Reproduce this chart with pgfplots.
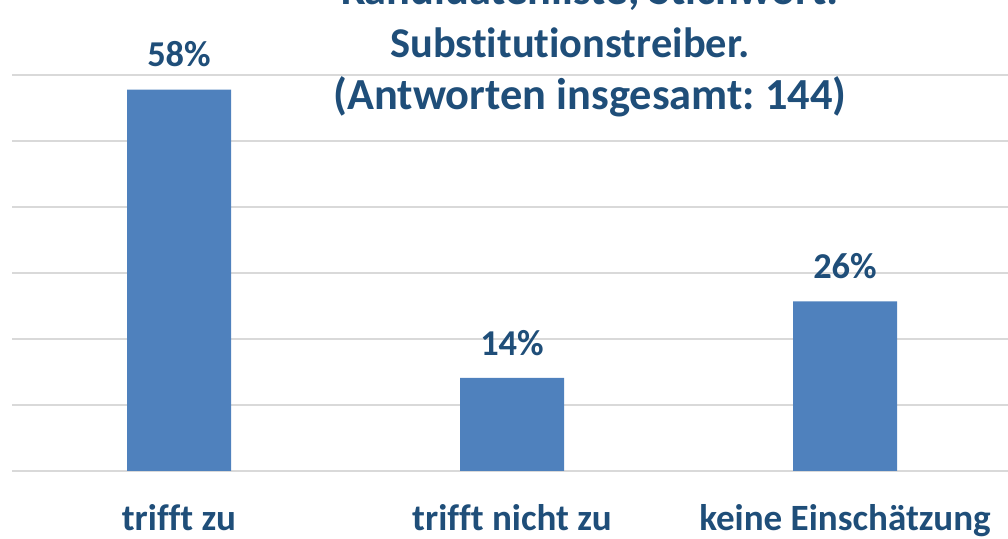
\documentclass[border=0pt]{standalone}
\usepackage{pgfplots}
\pgfplotsset{compat=1.18}
\usepackage{pgfplotstable}
\usepackage{fontspec}
\setmainfont{Carlito}[Ligatures=NoCommon]
\frenchspacing
\definecolor{barblue}{HTML}{4F81BD}
\definecolor{txtblue}{HTML}{1F4E79}
\definecolor{gridgray}{HTML}{D9D9D9}
\pgfplotstableread{
x y lab
0 57.8 58\%
1 14.1 14\%
2 25.7 26\%
}\datatable
\begin{document}
\begin{tikzpicture}
\path[use as bounding box, clip] (-9.375pt,-51pt) rectangle (746.625pt,353.25pt);
\begin{axis}[
  at={(0pt,0pt)}, anchor=south west,
  scale only axis,
  width=749.25pt, height=297pt,
  xmin=-0.5, xmax=2.5, ymin=0, ymax=60,
  axis line style={draw=none},
  ytick={0,10,...,60}, yticklabels={},
  ymajorgrids, grid style={gridgray, line width=1.1pt},
  major tick length=0pt,
  xtick={0,1,2},
  xticklabels={trifft zu, trifft nicht zu, keine Einschätzung},
  xticklabel style={anchor=base, yshift=-45pt, font=\fontsize{27.8}{32}\selectfont\bfseries, text=txtblue},
  clip=false,
]
\addplot[ybar, bar width=78pt, fill=barblue, draw=none,
  point meta=explicit symbolic,
  nodes near coords,
  nodes near coords style={anchor=base, yshift=17pt, font=\fontsize{27.3}{32}\selectfont\bfseries, text=txtblue}]
  table[x=x, y=y, meta=lab] {\datatable};
\end{axis}
\begin{scope}[every node/.style={anchor=base, font=\fontsize{33.3}{40}\selectfont\bfseries, text=txtblue, inner sep=0pt}]
\node at (433.1pt,349.8pt) {Kandidatenliste, Stichwort:};
\node[font=\fontsize{31.8}{40}\selectfont\bfseries] at (418.1pt,309.75pt) {Substitutionstreiber.};
\node at (433.1pt,270.75pt) {(Antworten insgesamt: 144)};
\end{scope}
\end{tikzpicture}
\end{document}
